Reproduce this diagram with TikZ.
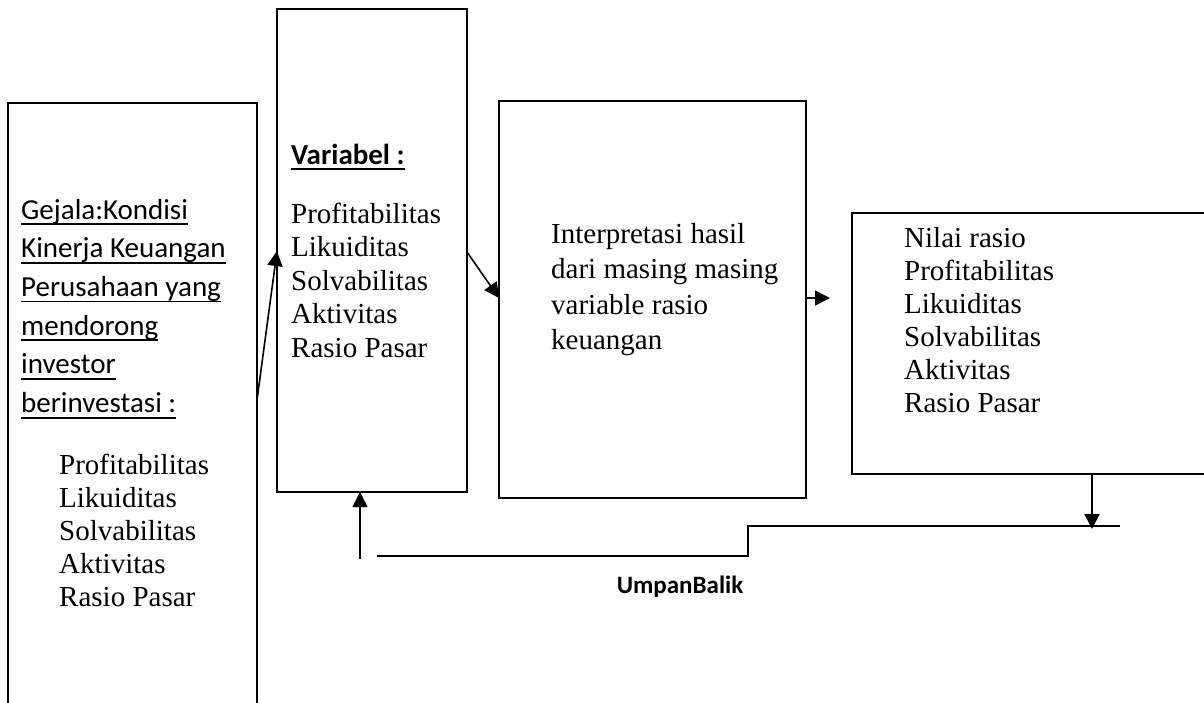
\documentclass[tikz,border=0pt]{standalone}
\usepackage{fontspec}
\setmainfont{Liberation Serif}
\newfontfamily\calib{Carlito}
\usetikzlibrary{arrows.meta}
\newcommand\ulx[1]{\setbox0\hbox{#1}\rlap{\rule[-6pt]{\wd0}{1.8pt}}\box0}
\newcommand\stk[2]{\vtop{\baselineskip=#1\lineskiplimit=-1000pt\lineskip=0pt #2}}
\begin{document}
\begin{tikzpicture}[x=1pt,y=-1pt,
  box/.style={draw, line width=1.6pt, rectangle, inner sep=0pt, outer sep=0pt},
  arr/.style={line width=1.6pt, -{Triangle[length=15pt,width=15pt]}},
  fbline/.style={line width=1.3pt},
  txt/.style={inner sep=0pt, anchor=base west},
  ser/.style={font=\fontsize{29pt}{33pt}\selectfont},
  cal/.style={font=\calib\fontsize{29pt}{38.7pt}\selectfont},
  calb/.style={font=\calib\bfseries\fontsize{29pt}{38.7pt}\selectfont}
 ]
\useasboundingbox (0,0) rectangle (1204,702);
\fill[white] (0,0) rectangle (1204,702);

\node[box, anchor=north west, minimum width=249pt, minimum height=620pt] (b1) at (8,103) {};
\node[box, anchor=north west, minimum width=190pt, minimum height=483pt] (b2) at (277,9) {};
\node[box, anchor=north west, minimum width=307pt, minimum height=397pt] (b3) at (499,101) {};
\node[box, anchor=north west, minimum width=370pt, minimum height=261pt] (b4) at (852,213) {};

\node[txt, cal] (t1) at (21,219) {\stk{38.7pt}{%
  \hbox{\ulx{Gejala:Kondisi}}
  \hbox{\ulx{Kinerja Keuangan}}
  \hbox{\ulx{Perusahaan yang}}
  \hbox{\ulx{mendorong}}
  \hbox{\ulx{investor}}
  \hbox{\ulx{berinvestasi :}}}};
\node[txt, ser] (t1b) at (59,474) {\stk{33.2pt}{%
  \hbox{Profitabilitas}
  \hbox{Likuiditas}
  \hbox{Solvabilitas}
  \hbox{Aktivitas}
  \hbox{Rasio Pasar}}};

\node[txt, calb] (t2h) at (291,164) {\ulx{Variabel :}};
\node[txt, ser] (t2) at (291,223) {\stk{33.5pt}{%
  \hbox{Profitabilitas}
  \hbox{Likuiditas}
  \hbox{Solvabilitas}
  \hbox{Aktivitas}
  \hbox{Rasio Pasar}}};

\node[txt, ser] (t3) at (551,243) {\stk{35.6pt}{%
  \hbox{Interpretasi hasil}
  \hbox{dari masing masing}
  \hbox{variable rasio}
  \hbox{keuangan}}};

\node[txt, ser] (t4) at (904,247) {\stk{33pt}{%
  \hbox{Nilai rasio}
  \hbox{Profitabilitas}
  \hbox{Likuiditas}
  \hbox{Solvabilitas}
  \hbox{Aktivitas}
  \hbox{Rasio Pasar}}};

\draw[arr] ([yshift=-297pt]b1.north east) -- ([yshift=-242pt]b2.north west);
\draw[arr] ([yshift=-243pt]b2.north east) -- ([yshift=-197pt]b3.north west);
\coordinate (p3) at (830,298);
\draw[arr] ([yshift=-197pt]b3.north east) -- (p3);
\coordinate (p4) at (1092,529);
\draw[arr] ([xshift=240pt]b4.south west) -- (p4);

\coordinate (f1) at (1120,526);
\coordinate (f2) at (748,526);
\coordinate (f3) at (748,556);
\coordinate (f4) at (377,556);
\draw[fbline] (f1) -- (f2) -- (f3) -- (f4);

\coordinate (p5) at (360,559);
\draw[arr] (p5) -- ([xshift=83pt]b2.south west);

\node[inner sep=0pt, anchor=base, font=\calib\bfseries\fontsize{25pt}{30pt}\selectfont] (ub) at (680,593) {UmpanBalik};
\end{tikzpicture}
\end{document}
